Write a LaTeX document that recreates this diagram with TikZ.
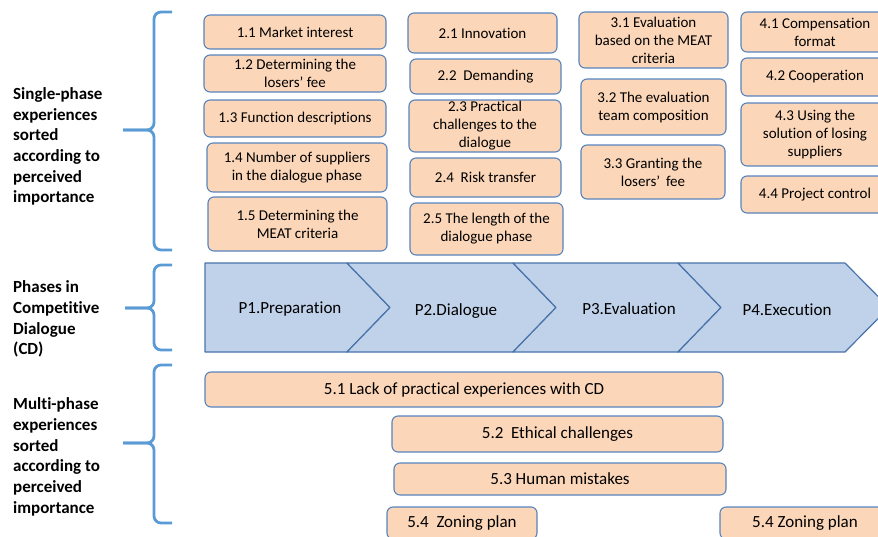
\documentclass[tikz,border=0pt]{standalone}
\usepackage{fontspec}
\setmainfont{Carlito}[Ligatures=NoCommon]
\definecolor{boxfill}{RGB}{251,214,184}
\definecolor{boxline}{RGB}{88,132,190}
\definecolor{phasefill}{RGB}{192,210,234}
\definecolor{phaseline}{RGB}{72,116,170}
\definecolor{braceblue}{RGB}{91,155,213}

\begin{document}
\begin{tikzpicture}[line join=round,x=1pt,y=-1pt,
    box/.style={draw=boxline,fill=boxfill,rounded corners=6pt,line width=1.1pt,inner sep=0pt,align=center,font=\fontsize{15}{18}\selectfont},
    widebox/.style={box,font=\fontsize{17}{20}\selectfont},
    phase/.style={draw=phaseline,fill=phasefill,line width=1.2pt},
    phaselabel/.style={font=\fontsize{17}{20}\selectfont},
    brace/.style={draw=braceblue,line width=2.8pt,rounded corners=7pt},
    sidelabel/.style={anchor=west,align=left,inner sep=0pt,font=\bfseries\fontsize{17}{20.7}\selectfont}]%phases
	\clip (0,0) rectangle (878,536);
	% left labels and braces
	\node [sidelabel] (single) at (13,146.5) {Single-phase\\experiences\\sorted\\according to\\perceived\\importance};
	\node [sidelabel] (cdphase) at (13,319) {Phases in\\Competitive\\Dialogue\\(CD)};
	\node [sidelabel] (multi) at (13,457) {Multi-phase\\experiences\\sorted\\according to\\perceived\\importance};
	\draw [brace] (172,12) -- (154,12) -- (154,130) -- (123,130);
	\draw [brace] (123,130) -- (154,130) -- (154,250) -- (172,250);
	\draw [brace] (172,265) -- (154,265) -- (154,308) -- (125,308);
	\draw [brace] (125,308) -- (154,308) -- (154,350) -- (172,350);
	\draw [brace] (172,365) -- (154,365) -- (154,443) -- (123,443);
	\draw [brace] (123,443) -- (154,443) -- (154,523) -- (172,523);
	% single-phase experiences
	\node [box,minimum width=182,minimum height=34] (m11) at (295,32) {1.1 Market interest};
	\node [box,minimum width=182,minimum height=37] (m12) at (295,73.5) {1.2 Determining the\\losers’ fee};
	\node [box,minimum width=182,minimum height=37] (m13) at (295,118.5) {1.3 Function descriptions};
	\node [box,minimum width=180,minimum height=49] (m14) at (297,167.5) {1.4 Number of suppliers\\in the dialogue phase};
	\node [box,minimum width=179,minimum height=54] (m15) at (297.5,224) {1.5 Determining the\\MEAT criteria};
	\node [box,minimum width=149,minimum height=40] (m21) at (482.5,33) {2.1 Innovation};
	\node [box,minimum width=151,minimum height=35] (m22) at (485.5,76.5) {2.2\ \ Demanding};
	\node [box,minimum width=152,minimum height=52] (m23) at (485,126) {2.3 Practical\\challenges to the\\dialogue};
	\node [box,minimum width=151,minimum height=39] (m24) at (485.5,177.5) {2.4\ \ Risk transfer};
	\node [box,minimum width=153,minimum height=52] (m25) at (486.5,229) {2.5 The length of the\\dialogue phase};
	\node [box,minimum width=149,minimum height=56] (m31) at (653.5,40) {3.1 Evaluation\\based on the MEAT\\criteria};
	\node [box,minimum width=145,minimum height=56] (m32) at (653.5,107) {3.2 The evaluation\\team composition};
	\node [box,minimum width=144,minimum height=54] (m33) at (653,172) {3.3 Granting the\\losers’\,\ fee};
	\node [box,minimum width=148,minimum height=40] (m41) at (815,32) {4.1 Compensation\\format};
	\node [box,minimum width=148,minimum height=38] (m42) at (815,77) {4.2 Cooperation};
	\node [box,minimum width=148,minimum height=63] (m43) at (815,134.5) {4.3 Using the\\solution of losing\\suppliers};
	\node [box,minimum width=148,minimum height=37] (m44) at (815,194.5) {4.4 Project control};
	% phases in CD
	\draw [phase] (205,263) -- (347,263) -- (390,307.5) -- (347,352) -- (205,352) -- cycle;
	\draw [phase] (347,263) -- (513,263) -- (556,307.5) -- (513,352) -- (347,352) -- (390,307.5) -- cycle;
	\draw [phase] (513,263) -- (678,263) -- (721,307.5) -- (678,352) -- (513,352) -- (556,307.5) -- cycle;
	\draw [phase] (678,263) -- (845,263) -- (889,307.5) -- (845,352) -- (678,352) -- (721,307.5) -- cycle;
	\node [phaselabel] (p1) at (290,309) {P1.Preparation};
	\node [phaselabel] (p2) at (456,311) {P2.Dialogue};
	\node [phaselabel] (p3) at (629,309) {P3.Evaluation};
	\node [phaselabel] (p4) at (787,310) {P4.Execution};
	% multi-phase experiences
	\node [widebox,minimum width=518,minimum height=35] (m51) at (464,389.5) {5.1 Lack of practical experiences with CD};
	\node [widebox,minimum width=331,minimum height=36] (m52) at (557.5,434) {5.2\ \ Ethical challenges};
	\node [widebox,minimum width=332,minimum height=32] (m53) at (560,479) {5.3 Human mistakes};
	\node [widebox,minimum width=150,minimum height=32] (m54a) at (462,523) {5.4\ \ Zoning plan};
	\node [widebox,minimum width=170,minimum height=32] (m54b) at (805,523) {5.4 Zoning plan};
\end{tikzpicture}
\end{document}
